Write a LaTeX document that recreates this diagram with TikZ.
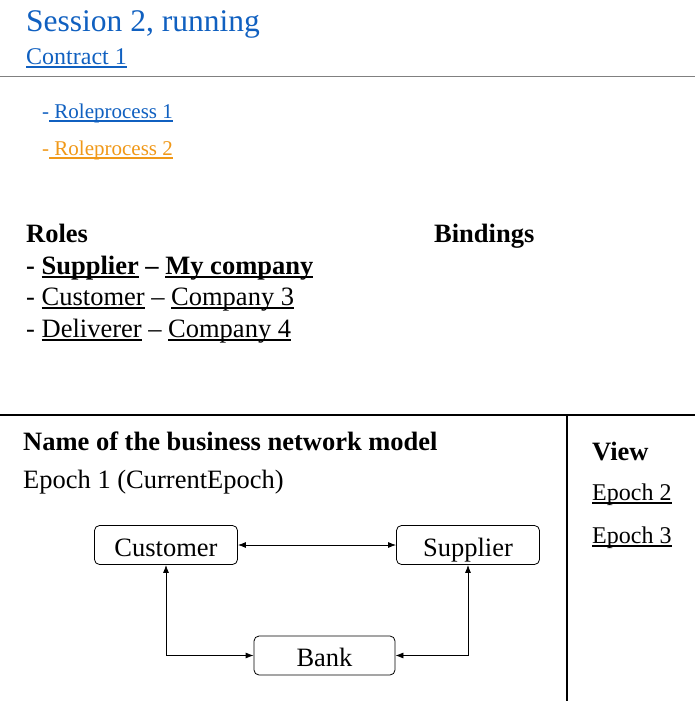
\documentclass[tikz,border=0pt]{standalone}
\usepackage{fontspec}
\setmainfont{Liberation Serif}
\usetikzlibrary{arrows.meta}
\definecolor{linkblue}{RGB}{16,96,192}
\definecolor{linkorange}{RGB}{240,152,24}
\newsavebox{\ulbox}
\newcommand{\ulink}[1]{\sbox{\ulbox}{#1}\rlap{\rule[-3.5pt]{\wd\ulbox}{1.2pt}}\usebox{\ulbox}}

\tikzstyle{txt} = [anchor=base west, inner sep=0pt, font=\fontsize{26.5}{31}\selectfont]
\tikzstyle{head} = [txt, font=\fontsize{26.5}{31}\selectfont\bfseries]
\tikzstyle{box} = [draw, rounded corners=5pt, line width=0.8pt, minimum width=143pt, minimum height=39pt, inner sep=0pt, text height=26pt, text depth=4pt, font=\fontsize{26.5}{31}\selectfont]
\tikzstyle{link} = [<->, >={Latex[length=8pt,width=6pt]}, line width=0.8pt]

\begin{document}
\begin{tikzpicture}[x=1pt, y=-1pt]
\useasboundingbox (0,0) rectangle (695,701);

% session header
\node[txt, text=linkblue, font=\fontsize{31.5}{37}\selectfont] (title) at (26,32) {Session 2, running};
\node[txt, text=linkblue, font=\fontsize{24}{29}\selectfont] (contract) at (26,64) {\ulink{Contract 1}};
\draw[gray, line width=1pt] (0,76) -- (695,76);

\node[txt, text=linkblue, font=\fontsize{21}{25}\selectfont] (rp1) at (42,118) {-\ulink{\ Roleprocess 1}};
\node[txt, text=linkorange, font=\fontsize{21}{25}\selectfont] (rp2) at (42,155) {-\ulink{\ Roleprocess 2}};

% roles and bindings
\node[head] (roles) at (26,242) {Roles};
\node[head] (bind) at (434,242) {Bindings};
\node[head] (r1) at (26,274) {- \ulink{Supplier} -- \ulink{My company}};
\node[txt] (r2) at (26,305) {- \ulink{Customer} -- \ulink{Company 3}};
\node[txt] (r3) at (26,337) {- \ulink{Deliverer} -- \ulink{Company 4}};

\draw[line width=2pt] (0,415) -- (695,415);
\draw[line width=1.2pt] (567,415) -- (567,701);

% model
\node[head] (model) at (23,450) {Name of the business network model};
\node[txt] (epoch1) at (23,488) {Epoch 1 (CurrentEpoch)};

\node[head] (view) at (592,460) {View};
\node[txt, font=\fontsize{24}{29}\selectfont] (epoch2) at (592,500) {\ulink{Epoch 2}};
\node[txt, font=\fontsize{24}{29}\selectfont] (epoch3) at (592,543) {\ulink{Epoch 3}};

\node[box] (cust) at (166,545) {Customer};
\node[box] (supp) at (468,545) {Supplier};
\node[box, minimum width=141pt] (bank) at (324.5,655.5) {Bank};

\draw[link] (cust) -- (supp);
\draw[link] (cust.south) |- (bank.west);
\draw[link] (supp.south) |- (bank.east);
\end{tikzpicture}
\end{document}
